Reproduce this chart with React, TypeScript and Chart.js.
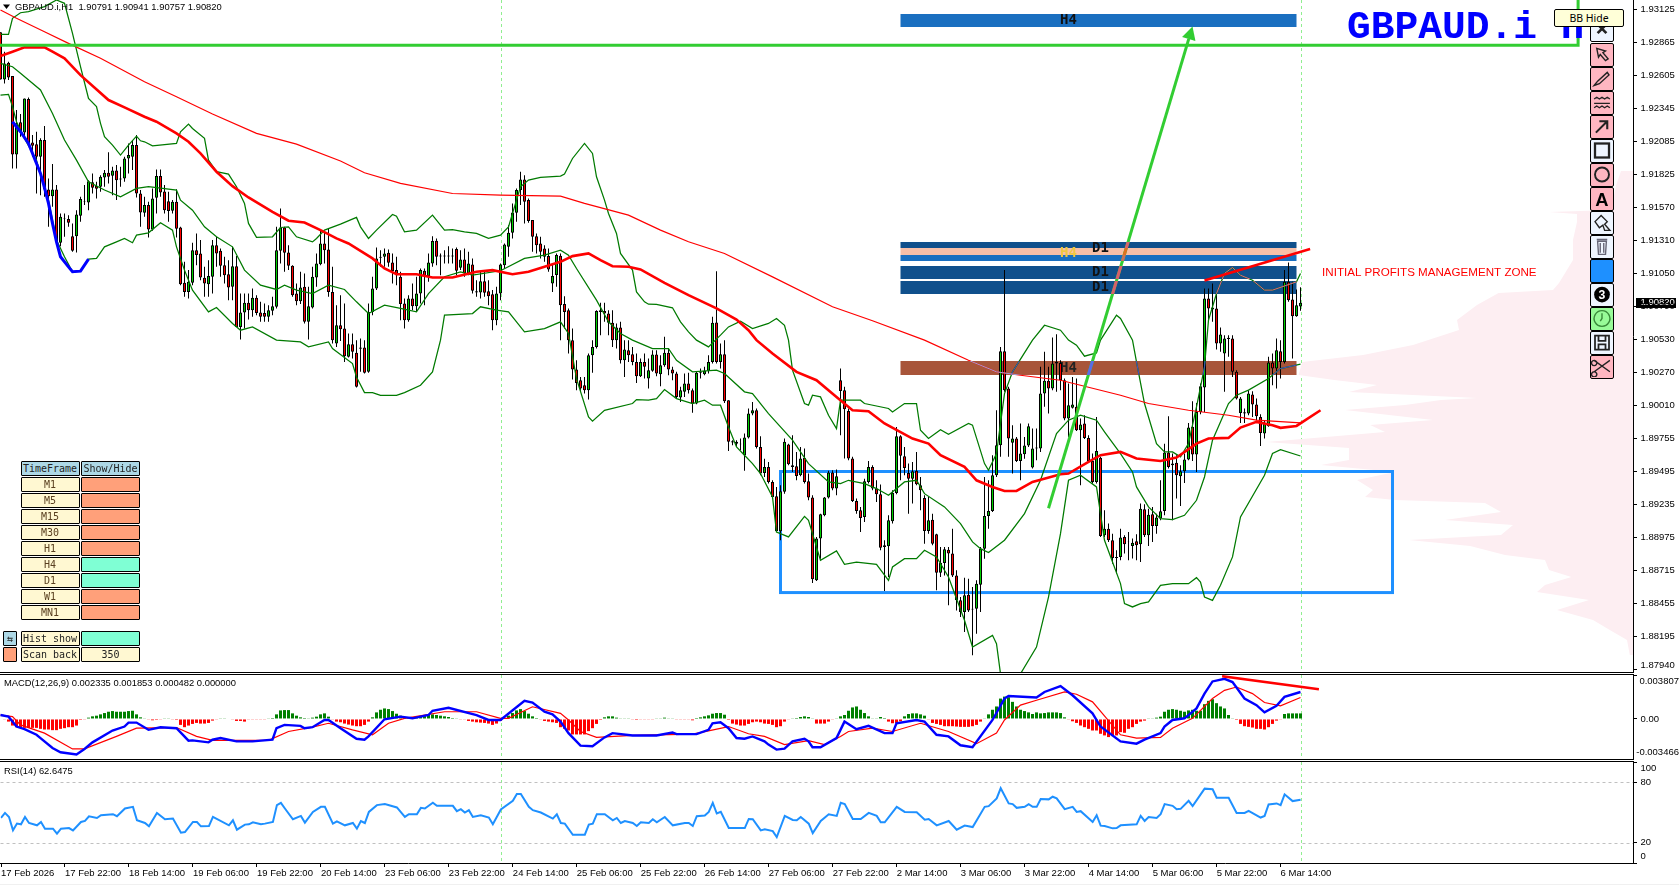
import React, { useEffect, useRef } from 'react';
import { Chart, registerables } from 'chart.js';
Chart.register(...registerables);

// ---- price data: integer points (1 point = 0.00001) ----
const candles: number[][] = [
[192944,192944,192574,192574],[192574,192792,192543,192700],[192705,192713,192569,192590],[192601,192601,191875,191985],[191985,192333,191875,192229],
[192237,192302,192124,192158],[192158,192425,192124,192425],[192420,192433,192058,192071],[192079,192137,191967,192053],[192064,192163,191678,191967],
[191967,192111,191665,192098],[192098,192208,191652,191710],[191710,191796,191416,191657],[191657,191909,191574,191710],[191710,191744,191272,191298],
[191291,191521,191264,191495],[191482,191521,191338,191477],[191477,191508,191416,191448],[191343,191443,191220,191228],[191343,191547,191215,191513],
[191503,191652,191456,191634],[191613,191744,191587,191618],[191608,191783,191547,191775],[191767,191836,191678,191723],[191736,191770,191639,191715],
[191731,191822,191691,191809],[191804,191862,191731,191841],[191841,192001,191757,191809],[191817,191888,191665,191859],[191859,191901,191626,191783],
[191796,191888,191731,191788],[191796,191967,191770,191953],[191953,192071,191836,191980],[191967,192098,191862,192058],[192058,192137,191647,191678],
[191678,191705,191416,191529],[191526,191652,191495,191587],[191587,191613,191333,191395],[191395,191718,191385,191639],[191644,191867,191521,191815],
[191815,191867,191652,191686],[191694,191744,191521,191547],[191618,191691,191456,191540],[191542,191626,191521,191613],[191613,191712,191333,191401],
[191411,191416,190958,190966],[190976,191141,190866,190905],[190905,191076,190853,190984],[190976,191291,190958,191233],[191233,191364,191115,191194],
[191207,191312,190997,191018],[191016,191102,190866,190971],[190966,191154,190866,191029],[191024,191312,190892,191272],[191272,191338,191102,191207],
[191228,191246,191024,191110],[191115,191181,190971,191036],[191044,191154,190840,190940],[190945,191259,190840,191107],[191107,191186,190630,190630],
[190630,190892,190531,190743],[190743,190892,190617,190819],[190819,190892,190688,190761],[190761,190932,190709,190858],[190858,190879,190722,190740],
[190743,190827,190670,190709],[190740,190814,190670,190709],[190709,190801,190670,190761],[190756,190866,190722,190793],[190788,191416,190774,191233],
[191228,191560,191128,191411],[191411,191416,191063,191212],[191215,191272,191076,191110],[191110,191115,190866,190879],[190892,190971,190801,190832],
[190832,191063,190809,190940],[190945,191050,190657,190670],[190670,190945,190531,190793],[190782,191102,190774,191024],[191018,191207,190945,191128],
[191123,191390,191115,191285],[191285,191377,191128,191233],[191238,191403,190866,190905],[190905,191102,190499,190526],[190500,190801,190473,190643],
[190643,190879,190520,190612],[190617,190814,190355,190400],[190395,190578,190390,190494],[190494,190578,190382,190434],[190426,190526,190154,190159],
[190468,190539,190277,190458],[190468,190526,190264,190269],[190277,190814,190269,190748],[190748,191024,190722,190932],[190932,191254,190919,191168],
[191173,191233,191102,191181],[191181,191246,191102,191207],[191212,191238,191102,191133],[191136,191207,190971,191070],[191076,191181,190958,191036],
[191024,191063,190683,190809],[190814,190853,190617,190683],[190683,190879,190670,190853],[190853,190971,190761,190793],[190793,191024,190748,190892],
[190892,191089,190814,191076],[191071,191089,190801,191031],[191029,191207,190984,191136],[191128,191343,191102,191304],[191306,191325,191115,191181],
[191191,191207,191036,191183],[191183,191233,191128,191191],[191191,191264,191128,191183],[191183,191246,191128,191191],[191241,191254,191036,191071],
[191094,191233,191076,191160],[191160,191246,191024,191050],[191050,191220,191036,191128],[191120,191168,190892,190913],[190911,190997,190866,190900],
[190900,191063,190853,190989],[190989,191063,190866,190898],[190911,190997,190801,190871],[190887,190919,190604,190683],[190683,190945,190643,190892],
[190892,191128,190840,191120],[191115,191285,191089,191277],[191259,191429,191181,191369],[191369,191600,191325,191529],[191526,191718,191456,191705],
[191705,191849,191587,191788],[191788,191822,191443,191613],[191626,191639,191448,191461],[191469,191469,191220,191338],[191343,191364,191207,191272],
[191285,191338,191168,191220],[191246,191272,191141,191181],[191186,191246,191063,191081],[190971,191128,190905,191029],[191037,191207,190945,191194],
[191188,191207,190526,190801],[190809,190871,190617,190748],[190761,190774,190421,190526],[190526,190617,190216,190295],[190295,190368,190133,190190],
[190211,190237,190120,190146],[190172,190237,190106,190133],[190133,190421,190059,190408],[190408,190526,190269,190473],[190473,190761,190460,190754],
[190748,190819,190565,190761],[190754,190819,190670,190735],[190735,190761,190565,190662],[190662,190761,190473,190526],[190526,190657,190460,190625],
[190625,190670,190342,190368],[190368,190526,190237,190452],[190447,190526,190355,190408],[190416,190473,190329,190355],[190355,190421,190190,190243],
[190243,190382,190237,190355],[190355,190421,190224,190316],[190224,190382,190146,190290],[190285,190447,190277,190413],[190413,190447,190243,190264],
[190258,190408,190164,190329],[190329,190552,190316,190426],[190426,190460,190251,190295],[190295,190316,190211,190264],[190264,190277,190067,190080],
[190075,190159,190041,190133],[190120,190264,190080,190185],[190185,190269,190106,190133],[190133,190146,189955,190028],[190028,190277,190022,190269],
[190269,190303,190224,190277],[190258,190316,190251,190285],[190285,190408,190264,190355],[190355,190709,190342,190662],[190665,191068,190342,190355],
[190355,190499,190303,190416],[190416,190526,190033,190046],[190054,190054,189656,189727],[189732,189740,189700,189721],[189727,189740,189687,189713],
[189713,189753,189661,189708],[189622,189792,189499,189761],[189761,189989,189753,189949],[189949,190041,189936,189975],[189975,189989,189674,189687],
[189687,189771,189465,189478],[189483,189595,189451,189530],[189530,189569,189399,189412],[189412,189425,189281,189294],[189299,189373,189019,189024],
[189024,189386,188954,189339],[189334,189753,189320,189727],[189706,189713,189543,189551],[189543,189779,189491,189530],[189535,189648,189425,189459],
[189464,189687,189457,189596],[189601,189674,189399,189412],[189417,189478,189268,189289],[189289,189307,188618,188647],[188639,188980,188634,188967],
[188967,189163,188809,189158],[189150,189294,189142,189289],[189289,189499,189281,189486],[189486,189504,189347,189360],[189360,189509,189307,189457],
[190211,190303,189779,190127],[190133,190159,189596,189983],[189970,189989,189582,189596],[189596,189609,189255,189263],[189263,189281,189163,189184],
[189189,189216,189019,189129],[189137,189438,189098,189417],[189412,189577,189399,189530],[189530,189543,189347,189360],[189360,189425,189255,189315],
[189315,189391,188875,188896],[188914,188954,188555,188901],[188906,189150,188665,189111],[189103,189346,189085,189328],[189326,189844,189315,189771],
[189771,189779,189425,189617],[189614,189687,189464,189522],[189483,189556,189163,189438],[189438,189569,189242,189496],[189499,189648,189386,189394],
[189386,189451,189189,189347],[189286,189307,188927,189027],[189027,189294,189006,189111],[189116,189163,188914,188927],[189001,189006,188561,188699],
[188699,188901,188665,188778],[188775,188901,188678,188883],[188880,188901,188443,188849],[188849,189045,188665,188678],[188678,188718,188403,188482],
[188482,188508,188351,188390],[188390,188660,188233,188521],[188526,188652,188390,188403],[188410,188587,188050,188415],[188415,188639,188220,188613],
[188605,188901,188390,188888],[188888,189451,188809,189145],[189145,189425,189045,189184],[189184,189622,189176,189464],[189464,189975,189451,189700],
[189700,190473,189609,190439],[190439,191076,190120,190133],[190146,190159,189609,189753],[189719,189858,189478,189753],[189753,189766,189569,189577],
[189577,189871,189425,189635],[189630,189766,189595,189698],[189698,189871,189687,189850],[189525,189831,189517,189674],[189682,189831,189582,189674],
[189674,190316,189648,190106],[190106,190434,190002,190206],[190206,190316,189949,190146],[190146,190547,190133,190342],[190342,190573,190120,190355],
[190347,190368,190133,190211],[190211,190224,189897,189910],[189910,190185,189766,190015],[189994,190237,189989,190020],[190002,190224,189813,189818],
[189818,189910,189386,189863],[189871,189936,189750,189758],[189758,189779,189569,189577],[189577,189635,189399,189412],[189412,189923,189399,189656],
[189603,189609,188980,188988],[188993,189189,188980,189045],[189045,189085,188940,188954],[188954,189006,188770,188815],[188815,188875,188692,188823],
[188823,189045,188796,188975],[188980,188993,188849,188922],[188946,189019,188796,188944],[188909,188967,188810,188935],[188946,189001,188796,188914],
[188922,189242,188783,189202],[189197,189237,188980,188993],[188993,189202,188909,189155],[189158,189216,188940,189066],[189066,189163,189006,189132],
[189124,189425,189111,189182],[189184,189713,189150,189643],[189643,189928,189517,189530],[189543,189635,189111,189556],[189562,189622,189281,189464],
[189457,189543,189224,189496],[189496,189635,189404,189588],[189588,189876,189582,189839],[189845,190046,189577,189627],[189627,190033,189491,189962],
[189962,190185,189944,190164],[190154,190932,189962,190853],[190853,190932,190683,190775],[190767,190971,190670,190782],[190775,190892,190452,190500],
[190500,190625,190434,190570],[190421,190565,190120,190539],[190534,190565,190395,190544],[190539,190565,190237,190277],[190277,190290,190059,190067],
[189954,190080,189876,190067],[189949,189989,189876,189960],[189949,190133,189936,190106],[190099,190125,189923,190020],[190020,190067,189897,189928],
[189923,189944,189695,189797],[189792,189897,189753,189871],[189850,190395,189845,190350],[190350,190421,190172,190303],[190303,190539,190146,190447],
[190439,190526,190224,190355],[190355,191076,190342,190984],[190984,191136,190827,190840],[190845,190984,190382,190714],[190714,190924,190709,190801],
[190791,190941,190757,190820],
];

const bbUpper: number[][] = [[0,192928],[2,192928],[3,193054],[5,193098],[7,193106],[11,193146],[14,193198],[16,193172],[18,192936],[20,192674],[22,192425],[24,192360],[25,192229],[26,192124],[28,192058],[30,191980],[32,192058],[34,192129],[35,192092],[36,192084],[38,192053],[44,192071],[45,192163],[47,192223],[48,192189],[51,192111],[52,191940],[54,191849],[57,191830],[59,191731],[61,191600],[62,191443],[64,191333],[68,191338],[70,191411],[72,191416],[74,191338],[78,191298],[79,191325],[81,191390],[85,191437],[89,191490],[90,191416],[92,191325],[94,191390],[98,191513],[99,191500],[101,191377],[104,191390],[108,191508],[111,191390],[113,191395],[116,191377],[119,191364],[122,191325],[125,191351],[127,191416],[128,191521],[130,191731],[132,191783],[135,191804],[140,191815],[141,191830],[143,191953],[146,192071],[148,191993],[149,191809],[151,191626],[152,191521],[154,191364],[155,191207],[158,191076],[159,190905],[161,190827],[162,190808],[164,190806],[168,190780],[170,190670],[172,190591],[174,190526],[177,190473],[180,190565],[182,190630],[185,190675],[188,190617],[192,190657],[194,190696],[196,190643],[197,190526],[198,190290],[201,190028],[202,190015],[203,190093],[205,190080],[207,189936],[209,189831],[210,190054],[215,190054],[216,190028],[222,189989],[223,189962],[226,190028],[229,190028],[230,189818],[232,189753],[235,189823],[237,189787],[242,189871],[243,189858],[246,189556],[247,189504],[249,189635],[251,190106],[253,190277],[258,190526],[261,190643],[265,190604],[267,190526],[269,190486],[271,190400],[274,190426],[275,190526],[279,190722],[280,190696],[283,190526],[284,190355],[286,190028],[289,189713],[291,189648],[293,189648],[295,189609],[297,189713],[299,190002],[301,190316],[302,190683],[304,190892],[306,191050],[308,191097],[310,191036],[313,190997],[316,190919],[318,190919],[324,190984],[325,191050]];

const bbMiddle: number[][] = [[0,192700],[3,192674],[5,192622],[10,192491],[13,192307],[16,192098],[19,191940],[22,191770],[26,191705],[30,191652],[34,191718],[37,191731],[44,191705],[45,191626],[48,191547],[51,191416],[54,191338],[58,191259],[61,191076],[65,190958],[69,190924],[71,190958],[74,190919],[78,190892],[82,190958],[86,190924],[89,190827],[92,190735],[96,190801],[100,190775],[104,190748],[107,190892],[111,191024],[115,191063],[118,191036],[125,191071],[131,191168],[136,191194],[140,191233],[142,191194],[144,191089],[149,190840],[152,190670],[155,190578],[158,190526],[163,190460],[167,190460],[169,190368],[173,190277],[179,190290],[181,190264],[186,190120],[188,190106],[192,189949],[198,189740],[202,189556],[207,189412],[210,189399],[212,189425],[216,189399],[219,189360],[222,189307],[226,189412],[229,189425],[231,189320],[236,189216],[240,189085],[243,188941],[245,188888],[247,188857],[251,188954],[256,189163],[260,189425],[264,189792],[267,189897],[270,189936],[274,189897],[276,189805],[280,189635],[283,189491],[284,189373],[287,189216],[290,189124],[293,189116],[296,189150],[299,189268],[301,189451],[303,189740],[307,190028],[309,190093],[312,190133],[317,190224],[320,190303],[325,190337]];

const bbLower: number[][] = [[0,192451],[2,192457],[3,192360],[4,192242],[6,192111],[9,191940],[11,191718],[12,191626],[14,191312],[16,191181],[18,191063],[20,191071],[22,191162],[24,191168],[26,191259],[29,191298],[31,191325],[33,191291],[34,191351],[37,191369],[40,191448],[43,191390],[44,191259],[46,191076],[48,190919],[52,190748],[54,190782],[58,190657],[60,190604],[63,190630],[69,190526],[75,190512],[77,190473],[82,190512],[83,190460],[88,190342],[89,190237],[91,190114],[93,190114],[95,190093],[99,190093],[101,190114],[105,190172],[108,190277],[110,190526],[111,190722],[118,190735],[120,190788],[124,190761],[127,190748],[131,190591],[136,190617],[140,190670],[142,190578],[144,190224],[147,189923],[148,189889],[151,189975],[158,190028],[159,190059],[162,190054],[164,190067],[166,190138],[169,190067],[173,190028],[176,190054],[178,190015],[180,190015],[182,189844],[184,189687],[186,189622],[188,189556],[190,189478],[193,189294],[194,189019],[197,188980],[201,189142],[202,189111],[205,188796],[209,188870],[211,188765],[214,188783],[219,188765],[222,188639],[223,188744],[226,188809],[229,188809],[231,188875],[234,188822],[237,188665],[241,188325],[243,188115],[248,188207],[249,188141],[250,187905],[255,187905],[259,188115],[262,188508],[265,189006],[267,189425],[270,189465],[274,189373],[276,188954],[280,188613],[281,188456],[283,188430],[285,188456],[287,188469],[290,188600],[293,188613],[297,188613],[299,188660],[300,188626],[301,188508],[303,188482],[305,188600],[308,188823],[310,189137],[316,189465],[318,189635],[320,189666],[325,189616]];

const zigzagBlue: number[][] = [[3,192242],[5,192163],[7,192071],[9,191914],[10,191836],[11,191723],[12,191600],[13,191443],[14,191298],[15,191181],[17,191102],[18,191063],[20,191068],[22,191162]];

const maFast: number[][] = [[0,192758],[3,192792],[6,192826],[11,192826],[13,192792],[16,192740],[20,192608],[27,192412],[31,192354],[36,192281],[39,192242],[44,192150],[47,192084],[50,191993],[54,191849],[58,191736],[62,191647],[68,191534],[72,191464],[76,191450],[80,191390],[84,191325],[87,191285],[93,191168],[96,191089],[99,191044],[104,191044],[108,191018],[113,191018],[119,191063],[123,191076],[128,191044],[132,191063],[140,191141],[143,191186],[147,191207],[150,191154],[153,191107],[157,191102],[160,191081],[166,190976],[172,190879],[179,190775],[184,190688],[187,190604],[189,190526],[193,190421],[199,190277],[204,190211],[209,190080],[213,189975],[217,189968],[221,189871],[228,189753],[232,189713],[235,189622],[241,189530],[244,189425],[248,189373],[251,189341],[254,189341],[258,189412],[265,189472],[267,189478],[272,189569],[275,189622],[280,189648],[284,189596],[290,189577],[294,189603],[299,189713],[302,189753],[307,189758],[310,189839],[314,189884],[318,189858],[320,189837],[324,189852],[330,189975]];

const maSlow: number[][] = [[0,193119],[4,193054],[11,192949],[17,192857],[25,192740],[36,192556],[44,192438],[53,192302],[64,192150],[74,192066],[85,191933],[91,191841],[100,191757],[113,191678],[125,191665],[140,191657],[146,191600],[157,191508],[165,191390],[172,191299],[181,191207],[193,191023],[208,190788],[218,190678],[231,190526],[242,190368],[249,190277],[255,190250],[265,190211],[280,190093],[287,190028],[297,189975],[307,189936],[314,189897],[325,189876]];

// MACD values in millionths
const macdMain: number[][] = [[0,342],[2,200],[4,-656],[6,-884],[9,-1368],[10,-1653],[13,-2508],[15,-2879],[19,-3078],[21,-2594],[23,-2024],[28,-998],[31,-656],[32,-314],[34,-314],[37,-941],[40,-713],[44,-798],[47,-1881],[48,-1853],[52,-2024],[53,-1796],[55,-1653],[59,-1938],[63,-1938],[68,-1796],[69,-798],[71,-513],[75,-599],[76,-798],[78,-713],[81,-86],[82,-86],[85,-798],[89,-1710],[91,-1796],[92,-1511],[96,-29],[100,200],[103,57],[107,342],[108,713],[112,969],[119,342],[122,-86],[125,-86],[131,1568],[133,1425],[136,627],[138,399],[140,-228],[142,-1226],[145,-2309],[148,-2366],[151,-1596],[153,-1226],[158,-1425],[164,-1425],[168,-1169],[169,-1311],[174,-1311],[177,-941],[178,-371],[180,-285],[182,-798],[184,-1653],[186,-1710],[188,-1511],[191,-1938],[192,-2223],[194,-2651],[196,-2565],[198,-1938],[201,-1710],[202,-1938],[203,-2451],[205,-2451],[209,-1653],[211,-228],[214,-884],[217,-599],[221,-1226],[223,-1226],[224,-371],[229,-86],[231,-228],[234,-1368],[237,-1511],[240,-2280],[243,-2451],[248,-86],[251,1767],[252,1995],[259,1853],[261,2337],[265,2850],[268,2052],[273,485],[275,-656],[280,-1938],[284,-2138],[286,-1796],[290,-1226],[291,-656],[293,-86],[296,57],[299,912],[301,2195],[303,3249],[306,3477],[308,3192],[311,1767],[314,1197],[316,570],[319,1140],[321,1910],[325,2335]];
const macdSignal: number[][] = [[0,342],[3,200],[5,-513],[11,-1226],[18,-2594],[21,-2594],[29,-1511],[34,-798],[44,-741],[49,-1511],[53,-1853],[67,-1853],[72,-1083],[78,-713],[82,-371],[88,-941],[93,-1368],[97,-371],[101,57],[111,627],[119,627],[125,57],[127,57],[133,1055],[140,485],[142,-86],[145,-1083],[149,-1596],[158,-1425],[173,-1311],[177,-1026],[182,-656],[187,-1283],[191,-1511],[196,-2223],[202,-1881],[206,-2223],[210,-1511],[212,-1083],[218,-798],[223,-1083],[230,-371],[237,-1083],[244,-2138],[249,-1226],[251,-86],[255,1197],[259,1625],[266,2337],[269,2138],[273,1482],[280,-1368],[284,-1653],[290,-1596],[293,-798],[298,57],[303,1767],[306,2480],[309,2765],[313,2195],[316,1425],[320,1140],[325,1853]];
const macdHist: number[] = [
0,-57,-228,-570,-712,-770,-770,-770,-770,-770,
-855,-912,-912,-969,-969,-855,-798,-712,-712,-570,
-85,-28,114,228,285,399,513,627,684,627,
627,627,684,712,399,142,57,-28,-114,-85,
-28,28,28,-28,-85,-513,-712,-570,-428,-342,
-399,-399,-342,-142,-28,28,28,0,-28,-171,
-171,-228,-28,-28,-28,-28,-28,57,85,399,
741,770,770,485,285,142,85,28,114,200,
399,485,200,-28,-228,-285,-399,-485,-570,-627,
-627,-513,-228,142,570,798,912,855,684,456,
285,142,114,114,171,228,285,342,399,342,
285,228,171,85,28,-28,-57,-171,-228,-285,
-314,-342,-399,-513,-399,-171,85,285,513,741,
855,684,456,228,85,-57,-171,-228,-285,-342,
-712,-855,-998,-1340,-1340,-1340,-1340,-1054,-798,-428,
-85,142,228,228,114,57,57,28,-28,-85,
-57,-57,-57,-28,57,57,114,57,57,-28,
-28,-28,-57,-114,85,142,228,314,456,513,
513,370,-85,-399,-485,-570,-570,-428,-285,-228,
-285,-399,-428,-513,-712,-627,-228,-57,28,85,
171,228,171,28,-399,-399,-399,-228,-28,28,
228,342,712,998,1083,798,513,228,57,28,
171,85,-228,-370,-370,-200,228,428,485,485,
399,285,-28,-342,-428,-513,-627,-627,-627,-655,
-684,-684,-684,-627,-513,-228,57,399,798,1083,
1767,1938,1881,1482,1083,798,684,570,428,570,
485,513,570,570,570,513,142,-28,-200,-342,
-570,-712,-855,-998,-998,-1282,-1425,-1568,-1482,-1425,
-1140,-1197,-855,-712,-428,-228,-142,28,57,114,
200,627,798,855,798,712,627,741,798,712,
712,1282,1568,1710,1368,1083,912,342,28,-85,
-428,-627,-684,-741,-855,-855,-912,-712,-428,-142,
-57,428,484,482,482,482];

const rsiLine: number[][] = [[0,44.6],[1,49.6],[2,45.6],[3,32.3],[4,39],[5,38.3],[6,45.6],[7,39.6],[9,37.3],[10,40.6],[11,34],[13,34],[14,29],[15,34],[17,34.6],[18,32.3],[20,40.6],[21,41.6],[22,46.3],[24,44.6],[25,47.3],[28,48.3],[29,46.3],[31,54],[33,55.6],[34,42.3],[36,39.6],[37,36.3],[39,49.6],[41,43.3],[43,44],[45,30],[46,30.6],[48,40.6],[49,40.6],[50,36.3],[52,36.6],[53,45.6],[57,37.3],[58,42.3],[59,33],[61,38],[62,38.3],[63,40.3],[65,38.3],[66,39],[68,40.6],[69,57.3],[70,59.6],[71,54],[73,43.3],[75,46.6],[76,40],[78,50.6],[80,55.6],[81,55.6],[83,39],[84,41.3],[86,37.3],[88,39.6],[89,34],[90,41.6],[91,39.6],[92,50.6],[94,57.3],[96,58.3],[99,55],[101,45.6],[102,48.3],[104,48.3],[105,54.6],[106,54],[108,59.6],[109,56.6],[113,56.6],[114,51.3],[115,53.3],[116,50],[117,52.3],[118,45.6],[120,47.3],[122,45],[123,38.3],[125,53],[128,61.6],[129,68.3],[130,68.3],[132,55.6],[133,52.3],[135,50],[138,44],[139,48.3],[140,39.6],[141,39],[143,28],[146,28],[147,38],[148,39],[149,48.3],[151,48.3],[153,42.3],[154,44.6],[155,39.6],[156,41.6],[158,39.6],[159,36.6],[160,40.3],[162,39.6],[163,43.3],[164,40.3],[166,45.6],[168,37.3],[171,39.6],[172,39.6],[173,36.6],[174,46.3],[176,47],[177,50.6],[178,59.6],[179,49],[180,50.6],[182,34.6],[186,34.6],[187,43.6],[188,43.3],[190,32.3],[191,33.3],[193,31.6],[194,25.6],[196,46.6],[198,42.6],[199,42.3],[200,45.6],[202,39],[203,29.6],[205,41.6],[207,48.3],[209,46.6],[210,59.6],[211,58.3],[213,43.6],[215,43.6],[217,49.6],[219,46.6],[220,40.3],[221,40.3],[224,55.6],[226,50.6],[229,50.3],[231,42.9],[232,43.6],[234,37.3],[237,41.6],[239,33],[241,37],[243,35.6],[246,55.6],[247,56.3],[249,64],[250,74],[252,59],[253,58.3],[254,54.6],[256,55.6],[257,58.3],[258,55.6],[259,55.6],[260,63.3],[262,63],[263,65.6],[264,64],[266,53.3],[268,55.6],[269,50.6],[270,51.3],[273,40.6],[274,47.3],[275,37],[276,36.6],[278,34.3],[279,34.6],[280,37.3],[284,38.3],[285,46.6],[286,41.6],[287,45.6],[289,44.6],[290,48.3],[291,58.3],[293,56.6],[294,53.3],[295,53.6],[297,61.6],[298,56.3],[301,73.6],[303,73],[304,64.6],[307,64.6],[309,49.6],[311,49.6],[312,51.6],[315,45],[316,46.6],[317,58],[319,59],[320,57.3],[321,68],[323,61.3],[325,62.65]];

// market profile: [price points, volume]
const profile: number[][] = [[191855,3],[191745,4.2],[191627,5],[191548,5],[191533,21],[191517,14],[191454,14],[191313,15],[191155,15],[190975,18.5],[190920,20],[190896,33.6],[190802,39],[190684,44],[190606,43.5],[190488,55],[190409,67.5],[190354,82.7],[190252,83.6],[190213,74.7],[190173,64],[190118,71],[190071,39],[190056,48],[190016,57],[189977,72],[189898,50],[189859,65.7],[189804,62],[189726,91.6],[189678,71],[189584,71],[189545,78],[189490,59.5],[189427,69],[189349,65],[189294,67],[189270,59.5],[189246,37],[189176,33],[189113,47],[189074,30],[188995,33],[188956,56],[188909,40.7],[188838,32],[188799,22],[188720,21],[188665,15.4],[188602,22],[188547,24],[188484,11],[188406,19],[188327,10],[188249,5.8],[188170,1.5],[188052,0.8]];

const priceTicks = [1.93125,1.92865,1.92605,1.92345,1.92085,1.91825,1.9157,1.9131,1.9105,1.9079,1.9053,1.9027,1.9001,1.89755,1.89495,1.89235,1.88975,1.88715,1.88455,1.88195,1.8794];
const timeLabels = ['17 Feb 2026','17 Feb 22:00','18 Feb 14:00','19 Feb 06:00','19 Feb 22:00','20 Feb 14:00','23 Feb 06:00','23 Feb 22:00','24 Feb 14:00','25 Feb 06:00','25 Feb 22:00','26 Feb 14:00','27 Feb 06:00','27 Feb 22:00','2 Mar 14:00','3 Mar 06:00','3 Mar 22:00','4 Mar 14:00','5 Mar 06:00','5 Mar 22:00','6 Mar 14:00'];
const separatorBars = [125, 325];
const zoneFrom = 225, zoneTo = 324;
const zones = [
  { hi: 193088, lo: 192986, color: '#1a6fc0', cross: '#d46a5a', green: '#e0709a' },
  { hi: 191297, lo: 191250, color: '#10508c', cross: '#d8606a', green: '#e8608a' },
  { hi: 191250, lo: 191195, color: '#f8bfa8', cross: '#e0701e', green: '#e8608a' },
  { hi: 191195, lo: 191148, color: '#1a6fc0', cross: '#c8705a', green: '#e8608a' },
  { hi: 191108, lo: 191006, color: '#10508c', cross: '#d8606a', green: '#e8608a' },
  { hi: 190990, lo: 190888, color: '#10508c', cross: '#d8606a', green: '#e8608a' },
  { hi: 190362, lo: 190252, color: '#a8553a', cross: '#5a6ae8', green: '#4a4ad0' },
];
const zoneLabels: [string, number, number, string][] = [
  ['H4', 267, 193041, '#111'], ['D1', 275, 191250, '#111'], ['H4', 267, 191210, '#f0c840'],
  ['D1', 275, 191061, '#111'], ['D1', 275, 190943, '#111'], ['H4', 267, 190307, '#222'],
];
const horizLine = { price: 192842, toBar: 394.4 };
const boxZone = { fromBar: 195, toBar: 348, hi: 189494, lo: 188543 };
const arrowLine = { fromBar: 262, from: 189205, toBar: 298, to: 192990 };
const trendPrice = { fromBar: 301, from: 190994, toBar: 327.4, to: 191242 };
const trendMacd = { fromBar: 305.4, from: 3705, toBar: 329.6, to: 2565 };

const X_MIN = -0.125, X_MAX = 408.125;
const AXIS_FONT = '9.5px "Liberation Sans"';
const pts = (list: number[][], k = 1e5) => list.map(([x, y]) => ({ x, y: y / k }));

const xHidden = { type: 'linear', display: false, min: X_MIN, max: X_MAX, offset: false, grid: { offset: false } };

function yAxis(min: number, max: number, ticks: number[]) {
  return {
    type: 'linear', position: 'right', min, max, beginAtZero: false,
    afterBuildTicks: (s: any) => { s.ticks = ticks.map((value) => ({ value })); },
    afterFit: (s: any) => { s.width = 46; },
    ticks: { display: false },
    grid: { drawOnChartArea: false, tickLength: 4, color: '#000' },
    border: { color: '#000', display: true },
  };
}

const sideLabels = (items: [number, string][]) => ({
  id: 'sideLabels',
  afterDraw(c: any) {
    const { ctx, chartArea: a, scales, width } = c;
    ctx.save();
    ctx.font = AXIS_FONT; ctx.fillStyle = '#000'; ctx.textBaseline = 'middle'; ctx.textAlign = 'left';
    for (const [v, t] of items) {
      const py = Math.min(a.bottom - 6.5, Math.max(a.top + 6.5, scales.y.getPixelForValue(v)));
      const px = Math.min(a.right + 7.5, width - ctx.measureText(t).width);
      ctx.fillText(t, px, py);
    }
    ctx.restore();
  },
});

const separators = {
  id: 'separators',
  beforeDatasetsDraw(c: any) {
    const { ctx, chartArea: a, scales } = c;
    ctx.save();
    ctx.strokeStyle = '#90ee90'; ctx.lineWidth = 1; ctx.setLineDash([3, 3]);
    for (const b of separatorBars) {
      const x = Math.round(scales.x.getPixelForValue(b)) + 0.5;
      ctx.beginPath(); ctx.moveTo(x, a.top); ctx.lineTo(x, a.bottom); ctx.stroke();
    }
    ctx.restore();
  },
};

function tracePath(c: any, list: number[][]) {
  const { ctx, scales } = c;
  ctx.beginPath();
  list.forEach(([b, p], i) => {
    const x = scales.x.getPixelForValue(b), y = scales.y.getPixelForValue(p / 1e5);
    if (i) ctx.lineTo(x, y); else ctx.moveTo(x, y);
  });
}

const mainObjects = {
  id: 'mainObjects',
  beforeDatasetsDraw(c: any) {
    const { ctx, chartArea: a, scales } = c;
    const X = (b: number) => scales.x.getPixelForValue(b);
    const Y = (p: number) => scales.y.getPixelForValue(p / 1e5);
    ctx.save();
    // market profile
    ctx.fillStyle = '#fdeef2';
    ctx.beginPath();
    ctx.moveTo(a.right, Y(profile[0][0]));
    for (const [p, v] of profile) ctx.lineTo(X(X_MAX - v), Y(p));
    ctx.lineTo(a.right, Y(profile[profile.length - 1][0]));
    ctx.closePath(); ctx.fill();
    // zones
    for (const z of zones) {
      ctx.fillStyle = z.color;
      ctx.fillRect(X(zoneFrom), Math.round(Y(z.hi)), X(zoneTo) - X(zoneFrom), Math.round(Y(z.lo)) - Math.round(Y(z.hi)));
    }
    ctx.font = 'bold 14px "DejaVu Sans Mono"'; ctx.textAlign = 'center'; ctx.textBaseline = 'middle';
    for (const [t, b, p, col] of zoneLabels) { ctx.fillStyle = col; ctx.fillText(t, X(b), Y(p)); }
    // box
    ctx.strokeStyle = '#1e90ff'; ctx.lineWidth = 3;
    ctx.strokeRect(X(boxZone.fromBar), Y(boxZone.hi), X(boxZone.toBar) - X(boxZone.fromBar), Y(boxZone.lo) - Y(boxZone.hi));
    // notes
    ctx.textAlign = 'left';
    ctx.font = '11.6px "Liberation Sans"'; ctx.fillStyle = '#ff0000';
    ctx.fillText('INITIAL PROFITS MANAGEMENT ZONE', X(330.4), Y(191055));
    ctx.restore();
  },
  afterDatasetsDraw(c: any) {
    const { ctx, chartArea: a, scales } = c;
    const X = (b: number) => scales.x.getPixelForValue(b);
    const Y = (p: number) => scales.y.getPixelForValue(p / 1e5);
    ctx.save();
    // band colours where they cross the zones
    for (const z of zones) {
      ctx.save();
      ctx.beginPath();
      ctx.rect(X(zoneFrom), Y(z.hi), X(zoneTo) - X(zoneFrom), Y(z.lo) - Y(z.hi));
      ctx.clip();
      ctx.lineWidth = 1; ctx.strokeStyle = z.green;
      tracePath(c, bbUpper); ctx.stroke();
      tracePath(c, bbMiddle); ctx.stroke();
      if (z.lo < 190300) { ctx.strokeStyle = '#9aa5d8'; tracePath(c, maSlow); ctx.stroke(); }
      ctx.restore();
    }
    // big green level
    ctx.strokeStyle = '#32cd32'; ctx.lineWidth = 3; ctx.lineJoin = 'miter';
    ctx.beginPath();
    ctx.moveTo(a.left, Y(horizLine.price));
    ctx.lineTo(X(horizLine.toBar), Y(horizLine.price));
    ctx.lineTo(X(horizLine.toBar), a.top);
    ctx.stroke();
    // arrow
    const x0 = X(arrowLine.fromBar), y0 = Y(arrowLine.from), x1 = X(arrowLine.toBar), y1 = Y(arrowLine.to);
    const ang = Math.atan2(y1 - y0, x1 - x0);
    const bx = x1 - 13 * Math.cos(ang), by = y1 - 13 * Math.sin(ang);
    const stroke = (col: string) => {
      ctx.strokeStyle = col; ctx.lineWidth = 3;
      ctx.beginPath(); ctx.moveTo(x0, y0); ctx.lineTo(bx, by); ctx.stroke();
    };
    stroke('#32cd32');
    for (const z of zones.slice(1)) {
      ctx.save();
      ctx.beginPath();
      ctx.rect(X(zoneFrom), Y(z.hi), X(zoneTo) - X(zoneFrom), Y(z.lo) - Y(z.hi));
      ctx.clip();
      stroke(z.cross);
      ctx.restore();
    }
    ctx.fillStyle = '#32cd32';
    ctx.beginPath();
    ctx.moveTo(x1, y1);
    ctx.lineTo(bx + 7 * Math.sin(ang), by - 7 * Math.cos(ang));
    ctx.lineTo(bx - 7 * Math.sin(ang), by + 7 * Math.cos(ang));
    ctx.closePath(); ctx.fill();
    // red trend
    ctx.strokeStyle = '#ff0000'; ctx.lineWidth = 2.5;
    ctx.beginPath(); ctx.moveTo(X(trendPrice.fromBar), Y(trendPrice.from)); ctx.lineTo(X(trendPrice.toBar), Y(trendPrice.to)); ctx.stroke();
    // big title (the toolbar hides the rest of it)
    ctx.save();
    ctx.beginPath(); ctx.rect(0, 0, 1586, 60); ctx.clip();
    ctx.font = 'bold 39.6px "Liberation Mono"'; ctx.fillStyle = '#0000ff'; ctx.textBaseline = 'middle'; ctx.textAlign = 'left';
    ctx.fillText('GBPAUD.i H1', X(336.6), 28);
    ctx.restore();
    // header
    ctx.textBaseline = 'middle'; ctx.textAlign = 'left';
    ctx.font = '9.4px "Liberation Sans"'; ctx.fillStyle = '#000';
    ctx.fillText('GBPAUD.i,H1  1.90791 1.90941 1.90757 1.90820', 15, 7);
    ctx.beginPath(); ctx.moveTo(3, 4.5); ctx.lineTo(10, 4.5); ctx.lineTo(6.5, 9); ctx.closePath(); ctx.fill();
    ctx.restore();
  },
  afterDraw(c: any) {
    const { ctx, chartArea: a, scales } = c;
    const last = candles[candles.length - 1][3] / 1e5;
    const y = scales.y.getPixelForValue(last);
    ctx.save();
    ctx.fillStyle = '#000'; ctx.fillRect(a.right + 3, Math.round(y) - 5, 40, 10);
    ctx.fillStyle = '#fff'; ctx.font = AXIS_FONT; ctx.textBaseline = 'middle'; ctx.textAlign = 'left';
    ctx.fillText(last.toFixed(5), a.right + 7.5, y);
    ctx.restore();
  },
};

const macdObjects = {
  id: 'macdObjects',
  afterDatasetsDraw(c: any) {
    const { ctx, scales } = c;
    ctx.save();
    ctx.strokeStyle = '#ff0000'; ctx.lineWidth = 2.5;
    ctx.beginPath();
    ctx.moveTo(scales.x.getPixelForValue(trendMacd.fromBar), scales.y.getPixelForValue(trendMacd.from / 1e6));
    ctx.lineTo(scales.x.getPixelForValue(trendMacd.toBar), scales.y.getPixelForValue(trendMacd.to / 1e6));
    ctx.stroke();
    ctx.font = '9.4px "Liberation Sans"'; ctx.fillStyle = '#000'; ctx.textBaseline = 'middle'; ctx.textAlign = 'left';
    ctx.fillText('MACD(12,26,9) 0.002335 0.001853 0.000482 0.000000', 4, 8.5);
    ctx.restore();
  },
};

const rsiObjects = {
  id: 'rsiObjects',
  beforeDatasetsDraw(c: any) {
    const { ctx, chartArea: a, scales } = c;
    ctx.save();
    ctx.strokeStyle = '#c0c0c0'; ctx.lineWidth = 1; ctx.setLineDash([3, 3]);
    for (const v of [80, 20]) {
      const y = Math.round(scales.y.getPixelForValue(v)) + 0.5;
      ctx.beginPath(); ctx.moveTo(a.left, y); ctx.lineTo(a.right, y); ctx.stroke();
    }
    ctx.restore();
  },
  afterDatasetsDraw(c: any) {
    const { ctx } = c;
    ctx.save();
    ctx.font = '9.4px "Liberation Sans"'; ctx.fillStyle = '#000'; ctx.textBaseline = 'middle'; ctx.textAlign = 'left';
    ctx.fillText('RSI(14) 62.6475', 4, 9);
    ctx.restore();
  },
};

const lineDs = (data: any[], color: string, width: number, order: number) => ({
  type: 'line', data, borderColor: color, borderWidth: width, pointRadius: 0, tension: 0, fill: false, order,
});

const baseOptions = {
  responsive: false, animation: false, devicePixelRatio: 1,
  layout: { padding: 0 },
  plugins: { legend: { display: false }, tooltip: { enabled: false }, title: { display: false } },
  events: [],
};

// ---- overlay tables ----
const tfRows: [string, boolean][] = [['M1', false], ['M5', false], ['M15', false], ['M30', false], ['H1', false], ['H4', true], ['D1', true], ['W1', false], ['MN1', false]];
const CREAM = '#fff8d2', SALMON = '#ffa07a', AQUA = '#7fffd4', LBLUE = '#add8e6';

function Cell({ x, y, w, h = 15.5, bg, text, color = '#5a4020' }: any) {
  return <div style={{ position: 'absolute', left: x, top: y, width: w, height: h, boxSizing: 'border-box', background: bg, border: '1px solid #000', borderRadius: 1, font: '10px "DejaVu Sans Mono"', color, lineHeight: `${h - 2}px`, textAlign: 'center', whiteSpace: 'pre', overflow: 'hidden' }}>{text}</div>;
}

const S = { fill: 'none', stroke: '#222', strokeWidth: 1.6 } as any;
const toolButtons: [string, any][] = [
  ['#eef5ff', <path {...S} strokeWidth={3} d="M7 5 L17 15 M17 5 L7 15" />],
  ['#ffb6c1', <path {...S} d="M6 5 L16 8 L13 10 L19 17 L16 19 L10 12 L8 15 Z" />],
  ['#ffb6c1', <path {...S} d="M3 20 L7 15 L18 5 L20 8 L9 18 Z" />],
  ['#ffb6c1', <path {...S} d="M3 8 l3 -2 l3 2 l3 -2 l3 2 l3 -2 l3 2 M3 13 H21 M3 18 l3 -2 l3 2 l3 -2 l3 2 l3 -2 l3 2" />],
  ['#ffb6c1', <path {...S} strokeWidth={2.4} d="M5 19 L18 6 M9 6 H18 V15" />],
  ['#eef5ff', <rect {...S} strokeWidth={2.6} x="4" y="4" width="16" height="16" />],
  ['#ffb6c1', <circle {...S} strokeWidth={2.2} cx="12" cy="12" r="8" />],
  ['#ffb6c1', <text x="12" y="20" textAnchor="middle" style={{ font: 'bold 21px "Liberation Sans"' }}>A</text>],
  ['#eef5ff', <path {...S} d="M4 11 L11 4 L18 11 L15 14 L21 21 L15 21 L13 15 L9 18 Z" />],
  ['#eef5ff', <path {...S} stroke="#667" d="M7 6 H17 L16 21 H8 Z M6 4 H18 M10 8 V19 M14 8 V19" />],
  ['#1e90ff', null],
  ['#eef5ff', <g><circle cx="12" cy="12" r="9" fill="#000" /><text x="12" y="17" textAnchor="middle" fill="#fff" style={{ font: 'bold 14px "Liberation Sans"' }}>3</text></g>],
  ['#98fb98', <path {...S} stroke="#3a8a3a" d="M12 3 A9 9 0 1 0 12.01 3 M12 6 V12 L10 15" />],
  ['#eef5ff', <path {...S} strokeWidth={2} d="M4 4 H20 V20 H4 Z M8 4 V10 H16 V4 M8 20 V14 H16 V20" />],
  ['#ffb6c1', <path {...S} d="M3 5 L21 18 M21 5 L3 18 M3 5 a3 3 0 1 0 .1 0 M3 18 a3 3 0 1 0 .1 0" />],
];

export default function App() {
  const mainRef = useRef<HTMLCanvasElement>(null);
  const macdRef = useRef<HTMLCanvasElement>(null);
  const rsiRef = useRef<HTMLCanvasElement>(null);

  useEffect(() => {
    document.body.style.margin = '0';
    const bars = candles.map((c, i) => ({ i, o: c[0] / 1e5, h: c[1] / 1e5, l: c[2] / 1e5, c: c[3] / 1e5 }));
    const main = new Chart(mainRef.current as any, {
      type: 'bar',
      data: {
        datasets: [
          { type: 'bar', data: bars.map((b) => ({ x: b.i, y: [b.l, b.h] })), backgroundColor: '#000', barThickness: 1, grouped: false, order: 6, inflateAmount: 0, borderWidth: 0 },
          { type: 'bar', data: bars.map((b) => ({ x: b.i, y: [b.o, b.c] })), backgroundColor: bars.map((b) => (b.c >= b.o ? '#00d000' : '#ff0000')), borderColor: '#000', borderWidth: 1, borderSkipped: false, barThickness: 3, grouped: false, order: 5, inflateAmount: 0 },
          lineDs(pts(bbUpper), '#007a00', 1.25, 4),
          lineDs(pts(bbMiddle), '#007a00', 1.25, 4),
          lineDs(pts(bbLower), '#007a00', 1.25, 4),
          lineDs(pts(zigzagBlue), '#0000ff', 3, 3),
          lineDs(pts(maSlow), '#ff0000', 1.2, 2),
          lineDs(pts(maFast), '#ff0000', 2.6, 1),
        ],
      } as any,
      options: { ...baseOptions, scales: { x: xHidden, y: yAxis(1.87919, 1.93198, priceTicks) } } as any,
      plugins: [separators, mainObjects, sideLabels(priceTicks.map((v) => [v, v.toFixed(5)]))] as any,
    });
    const macd = new Chart(macdRef.current as any, {
      type: 'bar',
      data: {
        datasets: [
          { type: 'bar', data: macdHist.map((v, i) => ({ x: i, y: [0, v / 1e6] })), backgroundColor: macdHist.map((v) => (v >= 0 ? '#008000' : '#ff0000')), barThickness: 3, grouped: false, order: 5, inflateAmount: 0, borderWidth: 0 },
          lineDs(pts(macdSignal, 1e6), '#ff0000', 1.2, 2),
          lineDs(pts(macdMain, 1e6), '#0000ff', 2.4, 1),
        ],
      } as any,
      options: { ...baseOptions, scales: { x: xHidden, y: yAxis(-0.003466, 0.003807, [0.003807, 0, -0.003466]) } } as any,
      plugins: [separators, macdObjects, sideLabels([[0.003807, '0.003807'], [0, '0.00'], [-0.003466, '-0.003466']])] as any,
    });
    const rsi = new Chart(rsiRef.current as any, {
      type: 'line',
      data: { datasets: [lineDs(pts(rsiLine, 1), '#1e90ff', 2, 1)] } as any,
      options: {
        ...baseOptions,
        scales: {
          x: {
            type: 'linear', min: X_MIN, max: X_MAX, position: 'bottom',
            afterBuildTicks: (s: any) => { s.ticks = timeLabels.map((_, k) => ({ value: k * 16 })); },
            afterFit: (s: any) => { s.height = 22; },
            ticks: { callback: (v: number) => timeLabels[v / 16], align: 'start', autoSkip: false, maxRotation: 0, padding: 1, color: '#000', font: { family: 'Liberation Sans', size: 9.5 } },
            grid: { drawOnChartArea: false, tickLength: 4, color: '#000' },
            border: { color: '#000', display: true },
          },
          y: yAxis(0, 100, [100, 80, 20, 0]),
        },
      } as any,
      plugins: [separators, rsiObjects, sideLabels([[100, '100'], [80, '80'], [20, '20'], [0, '0']])] as any,
    });
    return () => { main.destroy(); macd.destroy(); rsi.destroy(); };
  }, []);

  const hline = (top: number) => <div style={{ position: 'absolute', left: 0, top, width: 1634, height: 1, background: '#000' }} />;

  return (
    <div style={{ position: 'relative', width: 1679, height: 885, overflow: 'hidden', background: '#fff' }}>
      <canvas ref={mainRef} width={1679} height={672} style={{ position: 'absolute', left: 0, top: 0 }} />
      <canvas ref={macdRef} width={1679} height={84} style={{ position: 'absolute', left: 0, top: 675 }} />
      <canvas ref={rsiRef} width={1679} height={123} style={{ position: 'absolute', left: 0, top: 762 }} />
      {hline(672)}{hline(674)}{hline(759)}{hline(761)}
      <div style={{ position: 'absolute', left: 0, top: 884, width: 1679, height: 1, background: '#f0f0f0' }} />

      <Cell x={20.5} y={460.5} w={59} bg={LBLUE} text="TimeFrame" color="#222" />
      <Cell x={81} y={460.5} w={59} bg={LBLUE} text="Show/Hide" color="#222" />
      {tfRows.map(([t, on], k) => (
        <React.Fragment key={t}>
          <Cell x={20.5} y={476.5 + 16 * k} w={59} bg={CREAM} text={t} />
          <Cell x={81} y={476.5 + 16 * k} w={59} bg={on ? AQUA : SALMON} text="" />
        </React.Fragment>
      ))}
      <Cell x={2.5} y={630.5} w={14.5} bg={LBLUE} text="⇆" color="#222" />
      <Cell x={20.5} y={630.5} w={59} bg={CREAM} text="Hist show" color="#222" />
      <Cell x={81} y={630.5} w={59} bg={AQUA} text="" />
      <Cell x={2.5} y={646.5} w={14.5} bg={SALMON} text="" />
      <Cell x={20.5} y={646.5} w={59} bg={CREAM} text="Scan back" color="#222" />
      <Cell x={81} y={646.5} w={59} bg={CREAM} text="350" color="#222" />

      {toolButtons.map(([bg, icon], k) => (
        <div key={k} style={{ position: 'absolute', left: 1590, top: k === 0 ? 19 : 43 + 24 * (k - 1), width: 24, height: k === 0 ? 23 : 23.5, boxSizing: 'border-box', background: bg, border: '1px solid #000', borderRadius: 2 }}>
          {icon && <svg width={22} height={21} viewBox="0 0 24 24" style={{ display: 'block' }}>{icon}</svg>}
        </div>
      ))}
      <div style={{ position: 'absolute', left: 1554, top: 9, width: 70, height: 18, boxSizing: 'border-box', background: '#ffffd8', border: '1px solid #000', borderRadius: 2, font: '10.5px "Noto Sans"', color: '#000', textAlign: 'center', lineHeight: '16px' }}>BB Hide</div>
    </div>
  );
}
